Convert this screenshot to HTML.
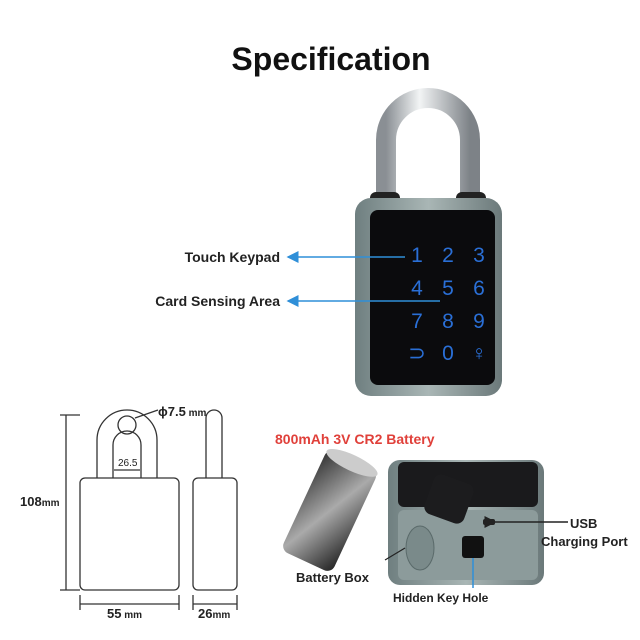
<!DOCTYPE html>
<html><head><meta charset="utf-8"><style>
html,body{margin:0;padding:0;background:#fff;}
svg{display:block;font-family:"Liberation Sans",sans-serif;}
</style></head><body>
<svg width="640" height="640" viewBox="0 0 640 640">
<defs>
<linearGradient id="sh" x1="0" x2="1"><stop offset="0" stop-color="#8a8f94"/><stop offset="0.4" stop-color="#f2f4f5"/><stop offset="1" stop-color="#7d8287"/></linearGradient>
<linearGradient id="body" x1="0" x2="1"><stop offset="0" stop-color="#6f7f80"/><stop offset="0.5" stop-color="#a9b6b5"/><stop offset="1" stop-color="#6b797a"/></linearGradient>
<linearGradient id="bat" x1="0" x2="1" y1="0" y2="1"><stop offset="0" stop-color="#333"/><stop offset="0.5" stop-color="#aaa"/><stop offset="1" stop-color="#222"/></linearGradient>
<marker id="ah" markerWidth="8" markerHeight="8" refX="1" refY="4" orient="auto"><path d="M8,0 L0,4 L8,8 z" fill="#2f8fd8"/></marker>
<marker id="ab" markerWidth="8" markerHeight="8" refX="7" refY="4" orient="auto"><path d="M0,0 L8,4 L0,8 z" fill="#222"/></marker>
</defs>
<text x="331" y="70" font-size="32" font-weight="bold" text-anchor="middle" fill="#111">Specification</text>
<!-- shackle -->
<path d="M386,205 L386,140 A42,42 0 0 1 470,140 L470,205" fill="none" stroke="url(#sh)" stroke-width="20"/>
<rect x="370" y="192" width="30" height="18" rx="6" fill="#222"/>
<rect x="456" y="192" width="30" height="18" rx="6" fill="#222"/>
<!-- body -->
<rect x="355" y="198" width="147" height="198" rx="16" fill="url(#body)"/>
<rect x="370" y="210" width="125" height="175" rx="8" fill="#0b0b0d"/>
<g fill="#2a6fd6" font-size="21" text-anchor="middle">
<text x="417" y="262">1</text><text x="448" y="262">2</text><text x="479" y="262">3</text>
<text x="417" y="295">4</text><text x="448" y="295">5</text><text x="479" y="295">6</text>
<text x="417" y="328">7</text><text x="448" y="328">8</text><text x="479" y="328">9</text>
<text x="417" y="360">⊃</text><text x="448" y="360">0</text><text x="479" y="360">♀</text>
</g>
<text x="280" y="262" font-size="14" font-weight="bold" text-anchor="end" fill="#222">Touch Keypad</text>
<line x1="288" y1="257" x2="405" y2="257" stroke="#2f8fd8" stroke-width="1.5" marker-start="url(#ah)"/>
<text x="280" y="306" font-size="14" font-weight="bold" text-anchor="end" fill="#222">Card Sensing Area</text>
<line x1="288" y1="301" x2="440" y2="301" stroke="#2f8fd8" stroke-width="1.5" marker-start="url(#ah)"/>
<!-- drawing -->
<g fill="none" stroke="#333" stroke-width="1.3">
<path d="M97,478 L97,440 A30,30 0 0 1 157,440 L157,478"/>
<path d="M113,478 L113,445 A14,14 0 0 1 141,445 L141,478"/>
<circle cx="127" cy="425" r="9"/>
<rect x="80" y="478" width="99" height="112" rx="5"/>
<rect x="193" y="478" width="44" height="112" rx="5"/>
<path d="M206,478 L206,418 A8,8 0 0 1 222,418 L222,478"/>
<line x1="114" y1="470" x2="140" y2="470"/>
<line x1="66" y1="415" x2="66" y2="590"/><line x1="60" y1="415" x2="80" y2="415"/><line x1="60" y1="590" x2="80" y2="590"/>
<line x1="80" y1="595" x2="80" y2="610"/><line x1="179" y1="595" x2="179" y2="610"/><line x1="80" y1="604" x2="179" y2="604"/>
<line x1="193" y1="595" x2="193" y2="610"/><line x1="237" y1="595" x2="237" y2="610"/><line x1="193" y1="604" x2="237" y2="604"/>
<line x1="135" y1="418" x2="158" y2="410"/>
</g>
<text x="118" y="466" font-size="10" fill="#222">26.5</text>
<text x="20" y="506" font-size="13" font-weight="bold" fill="#222">108<tspan font-size="10">mm</tspan></text>
<text x="158" y="416" font-size="13" font-weight="bold" fill="#222">ϕ7.5<tspan font-size="10"> mm</tspan></text>
<text x="107" y="618" font-size="13" font-weight="bold" fill="#222">55<tspan font-size="10"> mm</tspan></text>
<text x="198" y="618" font-size="13" font-weight="bold" fill="#222">26<tspan font-size="10">mm</tspan></text>
<!-- battery -->
<text x="275" y="444" font-size="14" font-weight="bold" fill="#e0403a">800mAh 3V CR2 Battery</text>
<g transform="rotate(25 330 510)">
<rect x="302" y="455" width="56" height="112" rx="8" fill="url(#bat)"/>
<ellipse cx="330" cy="458" rx="28" ry="8" fill="#ccc"/>
</g>
<!-- open lock -->
<rect x="388" y="460" width="156" height="125" rx="12" fill="url(#body)"/>
<rect x="398" y="462" width="140" height="45" rx="6" fill="#1a1a1c"/>
<rect x="398" y="510" width="140" height="70" rx="6" fill="#8c9b9b"/>
<rect x="428" y="478" width="42" height="42" rx="8" fill="#1c1c1e" transform="rotate(20 449 499)"/>
<ellipse cx="420" cy="548" rx="14" ry="22" fill="#7a8a8a" stroke="#5a6a6a"/>
<rect x="462" y="536" width="22" height="22" rx="3" fill="#111"/>
<rect x="483" y="519" width="12" height="6" rx="2" fill="#222"/>
<line x1="495" y1="522" x2="568" y2="522" stroke="#222" stroke-width="1.5" marker-start="url(#ab)"/>
<line x1="473" y1="558" x2="473" y2="588" stroke="#2f8fd8" stroke-width="1.5"/>
<line x1="405" y1="548" x2="385" y2="560" stroke="#222" stroke-width="1.2"/>
<text x="570" y="528" font-size="13" font-weight="bold" fill="#222">USB</text>
<text x="541" y="546" font-size="13" font-weight="bold" fill="#222">Charging Port</text>
<text x="296" y="582" font-size="13" font-weight="bold" fill="#222">Battery Box</text>
<text x="393" y="602" font-size="12" font-weight="bold" fill="#222">Hidden Key Hole</text>
</svg>
</body></html>
